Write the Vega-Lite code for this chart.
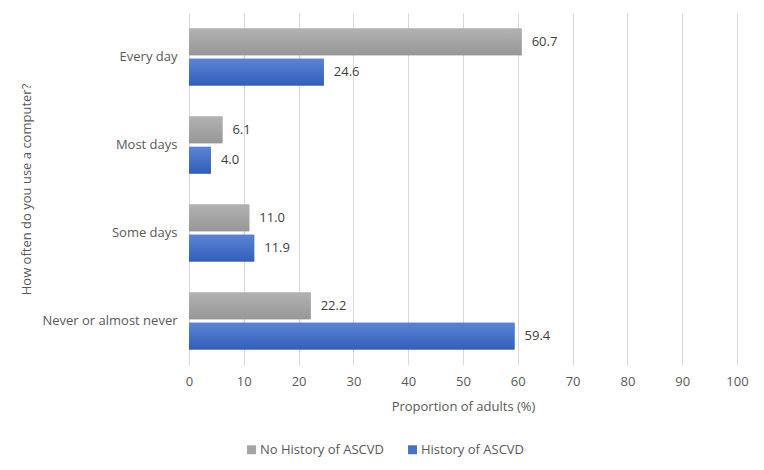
{
  "$schema": "https://vega.github.io/schema/vega-lite/v6.json",
  "width": 548,
  "height": 352,
  "autosize": {"type": "none"},
  "padding": {"left": 189, "top": 13, "right": 27, "bottom": 105},
  "background": "white",
  "config": {
    "font": "Open Sans",
    "view": {"stroke": null},
    "axis": {"labelColor": "#595959", "titleColor": "#595959", "labelFontSize": 13, "titleFontSize": 13, "titleFontWeight": "normal"},
    "legend": {"labelColor": "#595959", "labelFontSize": 13}
  },
  "data": {
    "values": [
      {"freq": "Every day", "group": "No History of ASCVD", "value": 60.7},
      {"freq": "Every day", "group": "History of ASCVD", "value": 24.6},
      {"freq": "Most days", "group": "No History of ASCVD", "value": 6.1},
      {"freq": "Most days", "group": "History of ASCVD", "value": 4.0},
      {"freq": "Some days", "group": "No History of ASCVD", "value": 11.0},
      {"freq": "Some days", "group": "History of ASCVD", "value": 11.9},
      {"freq": "Never or almost never", "group": "No History of ASCVD", "value": 22.2},
      {"freq": "Never or almost never", "group": "History of ASCVD", "value": 59.4}
    ]
  },
  "encoding": {
    "y": {
      "field": "freq", "type": "nominal",
      "sort": ["Every day", "Most days", "Some days", "Never or almost never"],
      "scale": {"paddingInner": 0.35, "paddingOuter": 0.175},
      "axis": {"title": "How often do you use a computer?", "domain": true, "domainColor": "#D9D9D9", "ticks": false, "labelPadding": 12, "titlePadding": 8}
    },
    "yOffset": {
      "field": "group", "type": "nominal",
      "sort": ["No History of ASCVD", "History of ASCVD"],
      "scale": {"paddingInner": 0.12}
    },
    "x": {
      "field": "value", "type": "quantitative",
      "scale": {"domain": [0, 100], "nice": false},
      "axis": {"title": "Proportion of adults (%)", "values": [0,10,20,30,40,50,60,70,80,90,100], "labelOverlap": false, "labelFlush": false, "grid": true, "gridColor": "#D9D9D9", "domain": false, "ticks": false, "labelPadding": 10, "titlePadding": 12}
    }
  },
  "layer": [
    {
      "mark": {"type": "bar"},
      "encoding": {
        "color": {
          "field": "group", "type": "nominal",
          "sort": ["No History of ASCVD", "History of ASCVD"],
          "scale": {"domain": ["No History of ASCVD", "History of ASCVD"], "range": ["#A5A5A5", "#4472C4"]},
          "legend": {"title": null, "orient": "none", "legendX": 56, "legendY": 430, "direction": "horizontal", "symbolType": "square", "symbolSize": 80, "columnPadding": 22, "labelOffset": 2}
        }
      }
    },
    {
      "transform": [{"filter": "datum.group === 'No History of ASCVD'"}],
      "mark": {"type": "bar", "color": {"gradient": "linear", "x1": 0, "y1": 0, "x2": 0, "y2": 1, "stops": [{"offset": 0, "color": "#B2B2B2"}, {"offset": 1, "color": "#979797"}]}}
    },
    {
      "transform": [{"filter": "datum.group === 'History of ASCVD'"}],
      "mark": {"type": "bar", "color": {"gradient": "linear", "x1": 0, "y1": 0, "x2": 0, "y2": 1, "stops": [{"offset": 0, "color": "#5A84D4"}, {"offset": 1, "color": "#325EBC"}]}}
    },
    {
      "mark": {"type": "text", "align": "left", "dx": 10, "fontSize": 13, "color": "#404040"},
      "encoding": {
        "text": {"field": "value", "type": "quantitative", "format": ".1f"}
      }
    }
  ]
}
